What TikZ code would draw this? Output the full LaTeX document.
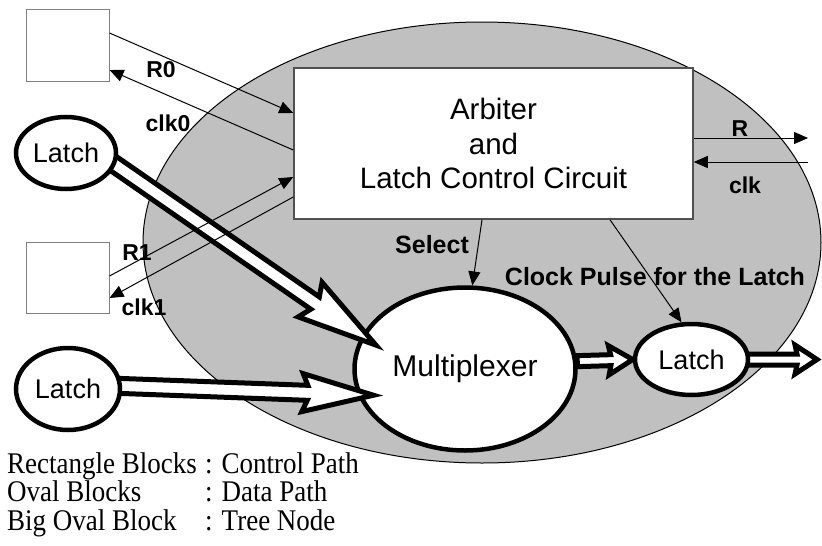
\documentclass[tikz,border=0pt]{standalone}
\usepackage{fontspec}
\setmainfont{Liberation Sans}
\newfontfamily\legendfont[FakeStretch=0.9]{Liberation Serif}
\usetikzlibrary{shapes.geometric,arrows.meta,calc}
\definecolor{treegray}{RGB}{192,192,192}
\definecolor{boxgray}{RGB}{128,128,128}
\definecolor{arbgray}{RGB}{80,80,80}
\pgfdeclarelayer{bg}
\pgfdeclarelayer{flow}
\pgfsetlayers{bg,flow,main}

% Outlined (hollow) block arrow: #1 tail, #2 tip, #3 shaft half-width,
% #4 head half-width, #5 head length, #6 distance of the barbs from the tip
\newcommand\hollowarrow[6]{%
  \draw[hollow] ($(#1)!#3!90:(#2)$)
    -- ($(#2)!#5!(#1)!#3!-90:(#1)$)
    -- ($(#2)!#6!(#1)!#4!-90:(#1)$)
    -- (#2)
    -- ($(#2)!#6!(#1)!#4!90:(#1)$)
    -- ($(#2)!#5!(#1)!#3!90:(#1)$)
    -- ($(#1)!#3!-90:(#2)$)
    -- cycle;}

\begin{document}
\begin{tikzpicture}[x=1pt,y=-1pt,
  treenode/.style={ellipse, draw=black, line width=1pt, fill=treegray,
    minimum width=678pt, minimum height=441pt, inner sep=0pt},
  ctrlbox/.style={rectangle, draw=boxgray, line width=1pt, fill=white, inner sep=0pt},
  oval/.style={ellipse, draw=black, line width=4.5pt, fill=white, inner sep=0pt,
    font=\fontsize{27}{27}\selectfont},
  hollow/.style={draw=black, fill=white, line width=5pt, line join=miter},
  sig/.style={-{Triangle[length=14pt,width=12pt]}, line width=1pt},
  siglabel/.style={font=\bfseries\fontsize{23}{23}\selectfont, inner sep=0pt},
  biglabel/.style={font=\bfseries\fontsize{25}{25}\selectfont, inner sep=0pt},
]
\useasboundingbox (0,0) rectangle (822,546);

% tree node and multiplexer lie beneath the data-path arrows
\begin{pgfonlayer}{bg}
  \node[treenode] (tree) at (482,242.5) {};
  \node[oval, minimum width=221pt, minimum height=163pt,
        font=\fontsize{30}{30}\selectfont] (mux) at (465,369) {Multiplexer};
\end{pgfonlayer}

% control path blocks
\node[ctrlbox, minimum width=83pt, minimum height=72pt] (box0) at (67.5,45) {};
\node[ctrlbox, minimum width=83pt, minimum height=71pt] (box1) at (67.5,277.5) {};
\node[rectangle, draw=arbgray, line width=1.5pt, fill=white, inner sep=0pt,
      minimum width=399pt, minimum height=151pt, align=center,
      font=\fontsize{29.5}{34.5}\selectfont] (arb) at (493.5,143.5)
      {Arbiter\\and\\Latch Control Circuit};

% data path latches
\node[oval, minimum width=100pt, minimum height=72pt] (latch1) at (66,153) {Latch};
\node[oval, minimum width=104pt, minimum height=82pt] (latch2) at (68,389) {Latch};
\node[oval, minimum width=113pt, minimum height=71pt] (latch3) at (691.5,359.5) {Latch};

% ends of the data-path arrows
\coordinate (a1tail) at ($(latch1.center)!0.85!(latch1.-10)$);
\coordinate (a1tip) at ($(mux.center)!0.84!(mux.165)$);
\coordinate (a2tail) at ([yshift=5pt]latch2.center);
\coordinate (a2tip) at ($(mux.center)!0.87!(mux.196)$);
\coordinate (a3tail) at (mux.4);
\coordinate (out) at (817,359.5);

\begin{pgfonlayer}{flow}
  \hollowarrow{a1tail}{a1tip}{7.5pt}{21pt}{74pt}{80pt}
  \hollowarrow{a2tail}{a2tip}{7.5pt}{19pt}{66pt}{71pt}
  \hollowarrow{a3tail}{latch3.west}{5.5pt}{14.5pt}{22pt}{24pt}
  \hollowarrow{latch3.center}{out}{5.5pt}{14.5pt}{20pt}{22pt}
\end{pgfonlayer}

% control signals
\draw[sig] ([yshift=12pt]box0.east) -- ([yshift=30.5pt]arb.west);
\draw[sig] ([yshift=-6.5pt]arb.west) -- ([yshift=-25pt]box0.east);
\draw[sig] ([yshift=1.5pt]box1.east) -- ([yshift=-33.5pt]arb.west);
\draw[sig] ([yshift=-53.5pt]arb.west) -- ([yshift=-20.5pt]box1.east);
\coordinate (rout) at (808,138);
\coordinate (clkin) at (808,162);
\draw[sig] ([yshift=5.5pt]arb.east) -- (rout);
\draw[sig] (clkin) -- ([yshift=-18.5pt]arb.east);
\draw[sig] ([xshift=-11.5pt]arb.south) -- (mux.85);
\draw[sig] ([xshift=116.5pt]arb.south) -- (latch3.105);

% signal labels
\node[siglabel] (lr0) at (161,70) {R0};
\node[siglabel] (lclk0) at (168,123) {clk0};
\node[siglabel] (lr1) at (137,253) {R1};
\node[siglabel] (lclk1) at (144,307) {clk1};
\node[siglabel] (lr) at (740,129) {R};
\node[siglabel] (lclk) at (745,185) {clk};
\node[biglabel] (lsel) at (432,245) {Select};
\node[biglabel] (lpulse) at (655,277) {Clock Pulse for the Latch};

% key
\node[inner sep=0pt, anchor=base west, font=\legendfont\fontsize{30}{26.5}\selectfont]
  (key) at (7,473)
  {\begin{tabular}[t]{@{}p{198pt}@{}l@{}}
     Rectangle Blocks & : Control Path\\
     Oval Blocks      & : Data Path\\
     Big Oval Block   & : Tree Node
   \end{tabular}};
\end{tikzpicture}
\end{document}
